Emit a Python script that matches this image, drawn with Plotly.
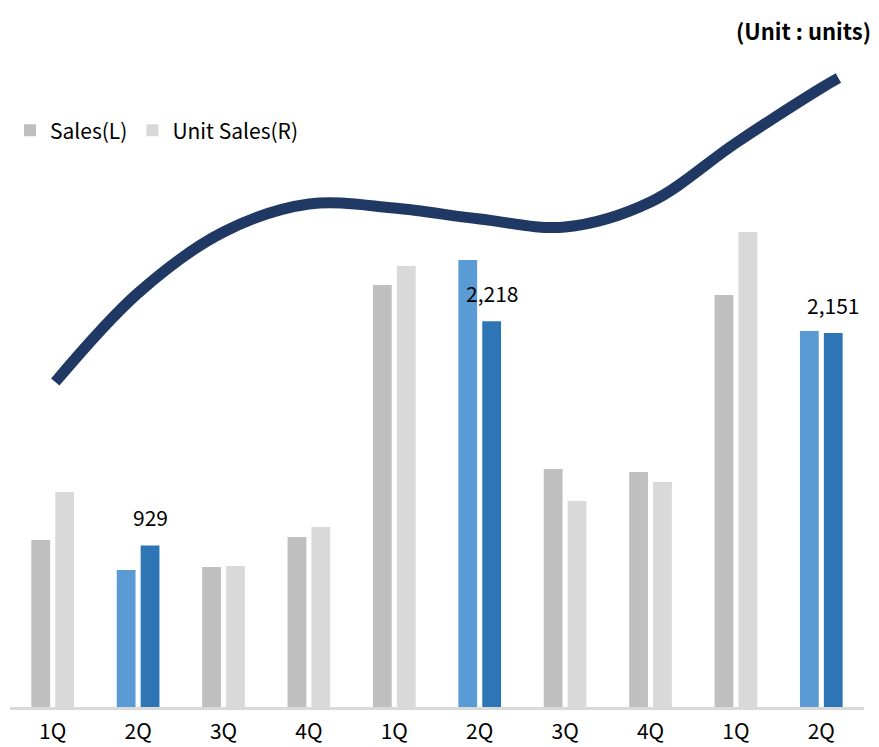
import plotly.graph_objects as go

quarters = ["1Q", "2Q", "3Q", "4Q", "1Q", "2Q", "3Q", "4Q", "1Q", "2Q"]
sales_l = [1670, 1370, 1400, 1700, 4220, 4470, 2380, 2350, 4120, 3760]
unit_sales_r = [1236, 929, 811, 1035, 2536, 2218, 1185, 1294, 2731, 2151]
highlight = [False, True, False, False, False, True, False, False, False, True]

trend_x = [0.03, 1, 2, 3, 4, 5, 6, 7, 8, 9, 9.2]
trend_y = [325, 414, 475, 503, 499, 488, 480, 505, 564, 619, 629]

x_idx = list(range(len(quarters)))
sales_colors = ["#5B9BD5" if h else "#BFBFBF" for h in highlight]
unit_colors = ["#2E75B6" if h else "#D9D9D9" for h in highlight]

FONT = "Noto Sans CJK KR, Noto Sans, sans-serif"

fig = go.Figure()
fig.add_trace(go.Bar(
    x=x_idx, y=sales_l, name="Sales(L)", yaxis="y",
    width=0.22, offset=-0.25,
    marker=dict(color=sales_colors, line=dict(width=0)),
))
fig.add_trace(go.Bar(
    x=x_idx, y=unit_sales_r, name="Unit Sales(R)", yaxis="y2",
    width=0.22, offset=0.03,
    marker=dict(color=unit_colors, line=dict(width=0)),
))
fig.add_trace(go.Scatter(
    x=trend_x, y=trend_y, yaxis="y3", mode="lines",
    line=dict(color="#203864", width=11, shape="spline", smoothing=1.0),
    showlegend=False, hoverinfo="skip",
))

annotations = []
for i, h in enumerate(highlight):
    if h:
        annotations.append(dict(
            x=i + 0.14, y=unit_sales_r[i], xref="x", yref="y2",
            text=f"{unit_sales_r[i]:,}", showarrow=False,
            yanchor="bottom", yshift=11,
            font=dict(family=FONT, size=21, color="#000000"),
        ))
annotations.append(dict(
    x=1.01, y=1.015, xref="paper", yref="paper", xanchor="right", yanchor="middle",
    text="<b>(Unit : units)</b>", showarrow=False,
    font=dict(family=FONT, size=22, color="#000000"),
))

fig.update_layout(
    width=879, height=747,
    margin=dict(l=10, r=15, t=40, b=40),
    paper_bgcolor="white", plot_bgcolor="white",
    font=dict(family=FONT, size=21, color="#000000"),
    barmode="overlay",
    showlegend=True,
    legend=dict(orientation="h", x=0.0, y=0.864, xanchor="left", yanchor="middle",
                font=dict(family=FONT, size=21, color="#000000"),
                bgcolor="rgba(0,0,0,0)", traceorder="normal"),
    xaxis=dict(
        range=[-0.5, 9.5], tickmode="array", tickvals=x_idx, ticktext=quarters,
        showgrid=False, zeroline=False, showline=True, linecolor="#D9D9D9", linewidth=3,
        ticks="", ticklabelstandoff=4, automargin=False,
        tickfont=dict(family=FONT, size=21, color="#000000"),
    ),
    yaxis=dict(range=[0, 6670], visible=False, showgrid=False, zeroline=False, fixedrange=True),
    yaxis2=dict(range=[0, 3835], overlaying="y", side="right", visible=False,
                showgrid=False, zeroline=False),
    yaxis3=dict(range=[0, 667], overlaying="y", visible=False,
                showgrid=False, zeroline=False),
    annotations=annotations,
)

fig.write_html("out.html")
